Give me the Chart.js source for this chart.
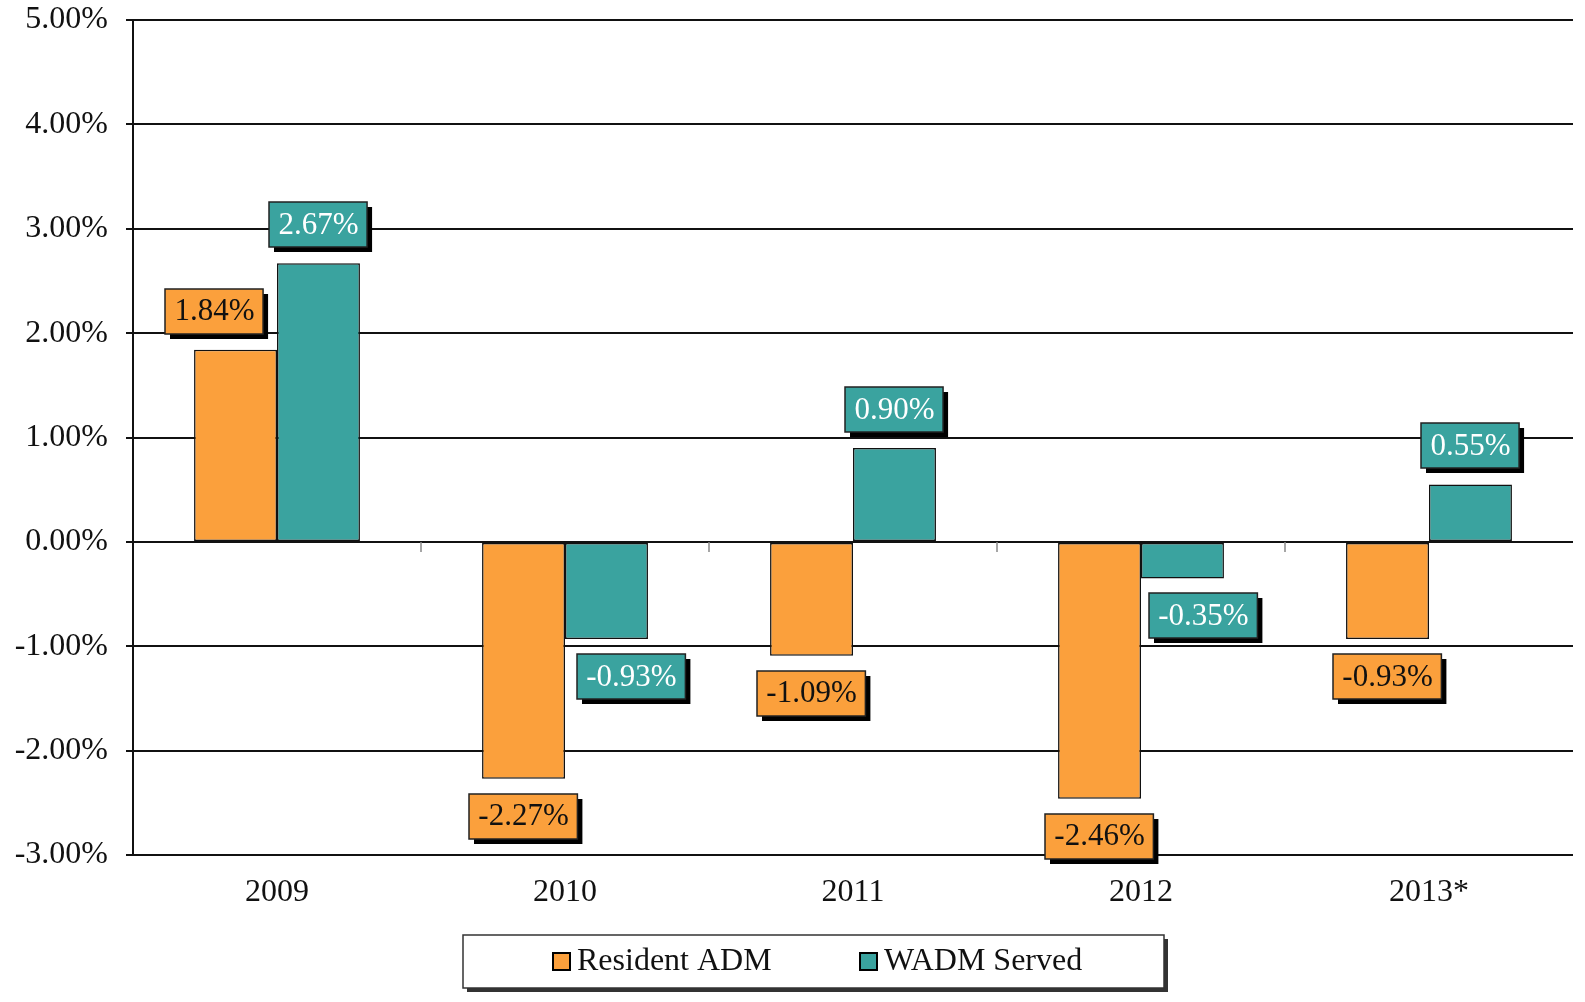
<!DOCTYPE html>
<html>
<head>
<meta charset="utf-8">
<script src="https://cdn.jsdelivr.net/npm/chart.js@4.4.1/dist/chart.umd.min.js"></script>
<style>
  html, body { margin: 0; padding: 0; background: #fff; }
  #wrap { width: 1585px; height: 1002px; }
</style>
</head>
<body>
<div id="wrap"><canvas id="chart"></canvas></div>
<script>
const years = ["2009", "2010", "2011", "2012", "2013*"];
const residentAdm = [1.84, -2.27, -1.09, -2.46, -0.93];
const wadmServed = [2.67, -0.93, 0.90, -0.35, 0.55];
const yTicks = [5, 4, 3, 2, 1, 0, -1, -2, -3];

const orange = "#FBA03C";
const teal = "#3AA39F";
const serif = "'Liberation Serif', 'Times New Roman', serif";

// small sideways nudges Excel applied to a few labels
const labelNudge = { "0-0": -21, "1-1": 25, "1-3": 21 };

const fmt = v => v.toFixed(2) + "%";

// boxed value labels with a hard black drop shadow
const boxLabels = {
  id: "boxLabels",
  afterDatasetsDraw(chart) {
    const ctx = chart.ctx;
    ctx.save();
    ctx.font = "31px " + serif;
    ctx.textAlign = "center";
    ctx.textBaseline = "middle";
    chart.data.datasets.forEach((ds, di) => {
      const meta = chart.getDatasetMeta(di);
      meta.data.forEach((bar, i) => {
        const v = ds.data[i];
        const txt = fmt(v);
        const w = ctx.measureText(txt).width + 18;
        const h = 45;
        const cx = bar.x + (labelNudge[di + "-" + i] || 0);
        const cy = v >= 0 ? bar.y - 16 - h / 2 : bar.y + 15 + h / 2;
        const x = Math.round(cx - w / 2), y = Math.round(cy - h / 2);
        ctx.fillStyle = "#000";
        ctx.fillRect(x + 5, y + 5, w, h);
        ctx.fillStyle = ds.backgroundColor;
        ctx.fillRect(x, y, w, h);
        ctx.strokeStyle = "#222";
        ctx.lineWidth = 1.5;
        ctx.strokeRect(x, y, w, h);
        ctx.fillStyle = di === 1 ? "#fff" : "#111";
        ctx.fillText(txt, cx, cy + 1);
      });
    });
    ctx.restore();
  }
};

// short tick marks between categories on the zero line
const zeroTicks = {
  id: "zeroTicks",
  afterDatasetsDraw(chart) {
    const ctx = chart.ctx;
    const xs = chart.scales.x, ys = chart.scales.y;
    const y0 = ys.getPixelForValue(0);
    ctx.save();
    ctx.strokeStyle = "#888";
    ctx.lineWidth = 1.5;
    for (let i = 1; i < years.length; i++) {
      const x = (xs.getPixelForValue(i - 1) + xs.getPixelForValue(i)) / 2;
      ctx.beginPath();
      ctx.moveTo(x, y0);
      ctx.lineTo(x, y0 + 10);
      ctx.stroke();
    }
    ctx.restore();
  }
};

// legend box at the bottom, with drop shadow
const boxLegend = {
  id: "boxLegend",
  afterDraw(chart) {
    const ctx = chart.ctx;
    const x = 463, y = 935, w = 701, h = 53;
    ctx.save();
    ctx.fillStyle = "#333";
    ctx.fillRect(x + 4, y + 4, w, h);
    ctx.fillStyle = "#fff";
    ctx.fillRect(x, y, w, h);
    ctx.strokeStyle = "#333";
    ctx.lineWidth = 1.5;
    ctx.strokeRect(x, y, w, h);
    ctx.font = "32px " + serif;
    ctx.textBaseline = "middle";
    const items = [[553, 0], [860, 1]];
    items.forEach(([ix, di]) => {
      const ds = chart.data.datasets[di];
      ctx.fillStyle = ds.backgroundColor;
      ctx.fillRect(ix, y + 18, 17, 17);
      ctx.strokeStyle = "#000";
      ctx.lineWidth = 2;
      ctx.strokeRect(ix, y + 18, 17, 17);
      ctx.fillStyle = "#111";
      ctx.fillText(ds.label, ix + 24, y + 27);
    });
    ctx.restore();
  }
};

new Chart(document.getElementById("chart"), {
  type: "bar",
  data: {
    labels: years,
    datasets: [
      { label: "Resident ADM", data: residentAdm, backgroundColor: orange,
        borderColor: "#111", borderWidth: 1.5, borderSkipped: false },
      { label: "WADM Served", data: wadmServed, backgroundColor: teal,
        borderColor: "#111", borderWidth: 1.5, borderSkipped: false }
    ]
  },
  options: {
    responsive: true,
    maintainAspectRatio: false,
    animation: false,
    layout: { padding: { left: 0, top: 20, right: 12, bottom: 0 } },
    datasets: { bar: { categoryPercentage: 0.576, barPercentage: 1.0 } },
    plugins: {
      legend: { display: false },
      tooltip: { enabled: false }
    },
    scales: {
      x: {
        grid: { display: false, drawTicks: false },
        border: { display: false },
        ticks: { color: "#111", font: { family: serif, size: 32 }, padding: 18 },
        afterFit: s => { s.height = 147; }
      },
      y: {
        min: -3,
        max: 5,
        afterBuildTicks: s => { s.ticks = yTicks.map(v => ({ value: v })); },
        grid: { color: "#111", lineWidth: 2, tickLength: 7, tickColor: "#111" },
        border: { display: true, color: "#111", width: 2 },
        ticks: {
          color: "#111",
          font: { family: serif, size: 32 },
          padding: 18,
          callback: v => fmt(v)
        },
        afterFit: s => { s.width = 133; s.paddingTop = 0; }
      }
    }
  },
  plugins: [zeroTicks, boxLabels, boxLegend]
});
</script>
</body>
</html>
